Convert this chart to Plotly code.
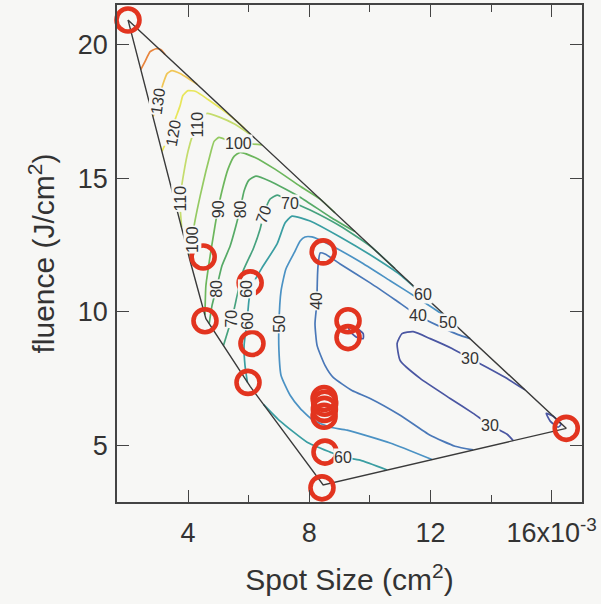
import plotly.graph_objects as go

# Spot size in units of 1e-3 cm^2, fluence in J/cm^2
spot_size = [2.02, 4.50, 4.56, 6.05, 6.11, 5.98, 8.46, 9.28, 9.28,
             8.49, 8.51, 8.50, 8.49, 8.52, 8.42, 16.48]
fluence = [20.93, 12.05, 9.66, 11.08, 8.81, 7.35, 12.24, 9.66, 9.03,
           6.75, 6.57, 6.34, 6.08, 4.74, 3.40, 5.63]

# boundary of the measured region
hull_x = [2.02, 4.07, 4.59, 6.05, 8.46, 16.48, 2.02]
hull_y = [20.93, 11.90, 9.74, 7.20, 3.51, 5.63, 20.93]

levels = [30, 40, 50, 60, 70, 80, 90, 100, 110, 120, 130, 140]
level_colors = ["#4a56a2", "#4a78b8", "#4b92c4", "#3a9ea2", "#46a27e", "#56aa66",
                "#6cb65c", "#94ca62", "#c4dc6c", "#e8e65a", "#f0c656", "#e8843c"]

# isolines (x, y) per level
c140_x = [2.44, 2.58, 2.75, 2.94, 3.11, 3.24]
c140_y = [19.07, 19.37, 19.74, 19.85, 19.81, 19.64]
c130_x = [2.85, 3.01, 3.18, 3.31, 3.47, 3.74, 4.07, 4.30]
c130_y = [17.31, 17.87, 18.55, 18.92, 19.03, 18.92, 18.69, 18.52]
c120_x = [3.14, 3.41, 3.60, 3.74, 3.83, 4.00, 4.26, 4.66, 5.12, 5.58, 5.88]
c120_y = [16.01, 16.68, 17.28, 17.72, 18.10, 18.28, 18.25, 17.95, 17.58, 17.16, 16.85]
c110_x = [3.79, 3.74, 3.77, 3.87, 4.00, 4.17, 4.30, 4.43, 4.63, 5.06, 5.55, 6.09]
c110_y = [13.17, 13.96, 14.52, 15.26, 16.01, 16.68, 17.05, 17.31, 17.43, 17.28, 17.02, 16.61]
c100_x = [4.03, 4.13, 4.23, 4.40, 4.59, 4.76, 4.86, 5.02, 5.32, 5.88, 6.44]
c100_y = [12.09, 12.72, 13.40, 14.33, 15.26, 16.01, 16.38, 16.53, 16.42, 16.31, 16.25]
c90_x = [4.56, 4.59, 4.73, 4.89, 4.99, 5.12, 5.32, 5.52, 5.72, 6.21, 6.87, 7.70, 8.36, 8.85]
c90_y = [9.89, 10.97, 12.09, 13.21, 13.84, 14.52, 15.34, 15.82, 15.97, 15.78, 15.34, 14.70, 14.22, 13.70]
c80_x = [4.70, 4.79, 4.96, 5.12, 5.39, 5.58, 5.72, 5.85, 6.01, 6.24, 6.71, 7.70, 8.69, 9.51]
c80_y = [9.55, 10.22, 10.97, 11.72, 12.46, 13.21, 13.84, 14.52, 14.93, 15.08, 14.89, 14.29, 13.55, 13.00]
c70_x = [5.17, 5.32, 5.45, 5.62, 5.82, 6.15, 6.38, 6.51, 6.71, 6.94, 7.37, 8.03, 9.02, 10.01, 10.83]
c70_y = [8.73, 9.29, 9.74, 10.60, 11.53, 12.35, 13.10, 13.69, 14.22, 14.37, 14.14, 13.81, 13.21, 12.46, 11.61]
c60a_x = [5.96, 5.88, 5.85, 5.95, 6.01, 6.11, 6.44, 6.94, 7.20, 7.43, 8.03, 9.02, 10.01, 11.00, 11.82]
c60a_y = [7.35, 7.99, 8.73, 9.66, 10.41, 10.97, 11.64, 12.54, 13.32, 13.58, 13.40, 12.80, 12.13, 11.38, 10.56]
c60b_x = [6.49, 7.04, 7.93, 8.69, 9.12, 9.68, 10.57]
c60b_y = [6.53, 5.90, 5.11, 4.74, 4.55, 4.44, 4.07]
c50_x = [12.71, 12.32, 11.66, 10.67, 9.68, 8.69, 8.09, 7.86, 7.70, 7.50, 7.23, 7.07, 7.00,
         7.00, 7.07, 7.37, 7.70, 8.13, 8.69, 9.25, 10.67, 12.05]
c50_y = [9.62, 9.96, 10.45, 11.16, 11.87, 12.50, 12.80, 12.80, 12.65, 12.20, 11.60, 10.78, 9.55,
         8.55, 7.61, 6.87, 6.38, 5.93, 5.67, 5.56, 5.08, 4.46]
c40_x = [13.31, 12.91, 12.32, 11.59, 10.83, 10.01, 9.02, 8.52, 8.36, 8.29, 8.26, 8.26, 8.19,
         8.26, 8.52, 8.79, 9.41, 10.01, 11.00, 11.99, 12.81, 13.41]
c40_y = [8.99, 9.14, 9.44, 9.85, 10.45, 11.08, 11.79, 12.16, 12.20, 11.72, 10.78, 10.41, 9.55,
         8.73, 7.99, 7.54, 7.05, 6.75, 6.12, 5.37, 4.96, 4.82]
c30a_x = [15.12, 14.46, 13.87, 13.31, 12.71, 11.99, 11.43, 11.06, 10.90, 11.00, 11.66, 12.65,
          13.41, 13.97, 14.53, 14.73]
c30a_y = [7.07, 7.54, 7.91, 8.25, 8.62, 8.99, 9.25, 9.18, 8.81, 8.17, 7.50, 6.75,
          6.19, 5.75, 5.41, 5.17]
c30b_x = [9.28, 9.54, 9.78, 9.78, 9.58, 9.35, 9.28]
c30b_y = [9.48, 9.40, 9.18, 8.99, 9.03, 9.25, 9.48]
c30c_x = [15.82, 16.05, 16.31, 16.21, 15.95, 15.82]
c30c_y = [6.19, 6.08, 5.78, 5.67, 5.90, 6.19]

isolines = [
    (140, c140_x, c140_y), (130, c130_x, c130_y), (120, c120_x, c120_y),
    (110, c110_x, c110_y), (100, c100_x, c100_y), (90, c90_x, c90_y),
    (80, c80_x, c80_y), (70, c70_x, c70_y), (60, c60a_x, c60a_y),
    (60, c60b_x, c60b_y), (50, c50_x, c50_y), (40, c40_x, c40_y),
    (30, c30a_x, c30a_y), (30, c30b_x, c30b_y), (30, c30c_x, c30c_y),
]

# in-line contour labels
label_level = [130, 120, 110, 110, 100, 100, 90, 80, 70, 70, 60, 80, 70, 60, 50, 40,
               60, 60, 40, 50, 30, 30]
label_x = [3.01, 3.51, 4.30, 3.74, 5.65, 4.13, 4.99, 5.72, 6.48, 7.37, 5.95, 4.96, 5.45,
           5.98, 7.04, 8.26, 9.12, 11.76, 11.59, 12.58, 13.31, 13.97]
label_y = [17.87, 16.68, 17.02, 14.25, 16.31, 12.72, 13.84, 13.84, 13.66, 14.07, 10.86,
           10.86, 9.74, 9.66, 9.55, 10.41, 4.55, 10.63, 9.85, 9.59, 8.25, 5.75]
label_angle = [-82, -80, -90, -90, 0, -90, -90, -90, -70, 0, -90, -90, -90, -90, -90, -90,
               0, 0, 0, 0, 0, 0]

BG = "#f7f7f5"
INK = "#3a3a3a"
FONT = "Liberation Sans, Arial, Helvetica, sans-serif"

color_of = dict(zip(levels, level_colors))

fig = go.Figure()

for lev, xs, ys in isolines:
    fig.add_trace(go.Scatter(
        x=xs, y=ys, mode="lines",
        line=dict(color=color_of[lev], width=1.7, shape="spline", smoothing=0.5),
        hoverinfo="skip", showlegend=False,
    ))

fig.add_trace(go.Scatter(
    x=hull_x, y=hull_y, mode="lines",
    line=dict(color=INK, width=1.4),
    hoverinfo="skip", showlegend=False,
))

fig.add_trace(go.Scatter(
    x=spot_size, y=fluence, mode="markers",
    marker=dict(symbol="circle-open", size=23, color="#e2341f", line=dict(width=4.6)),
    cliponaxis=False, showlegend=False,
))

for lev, lx, ly, ang in zip(label_level, label_x, label_y, label_angle):
    fig.add_annotation(
        x=lx, y=ly, text=str(lev), showarrow=False, textangle=ang,
        font=dict(family=FONT, size=16, color="#333333"),
        bgcolor=BG, borderpad=0,
    )

axis_common = dict(
    showgrid=False, zeroline=False, showline=True, linecolor="#444444", linewidth=1.5,
    mirror="ticks", ticks="inside", ticklen=12, tickwidth=1.3, tickcolor="#444444",
    tickfont=dict(family=FONT, size=27, color="#333333"),
)

fig.update_xaxes(
    range=[1.657, 17.0], tickvals=[4, 8, 12, 16],
    ticktext=["4", "8", "12", "16x10<sup>-3</sup>"],
    ticklabelstandoff=6,
    minor=dict(tickvals=[6, 10, 14], ticks="inside", ticklen=7, tickcolor="#444444"),
    title=dict(text="Spot Size (cm<sup>2</sup>)", font=dict(family=FONT, size=30, color="#333333"),
               standoff=22),
    **axis_common,
)
fig.update_yaxes(
    range=[2.87, 21.49], tickvals=[5, 10, 15, 20], ticktext=["5", "10", "15", "20"],
    ticklabelstandoff=2,
    title=dict(text="fluence (J/cm<sup>2</sup>)", font=dict(family=FONT, size=30, color="#333333"),
               standoff=14),
    **axis_common,
)

fig.update_layout(
    width=601, height=604,
    margin=dict(l=117, r=19, t=3, b=102),
    paper_bgcolor=BG, plot_bgcolor=BG,
    showlegend=False,
)

fig.write_html("out.html")
